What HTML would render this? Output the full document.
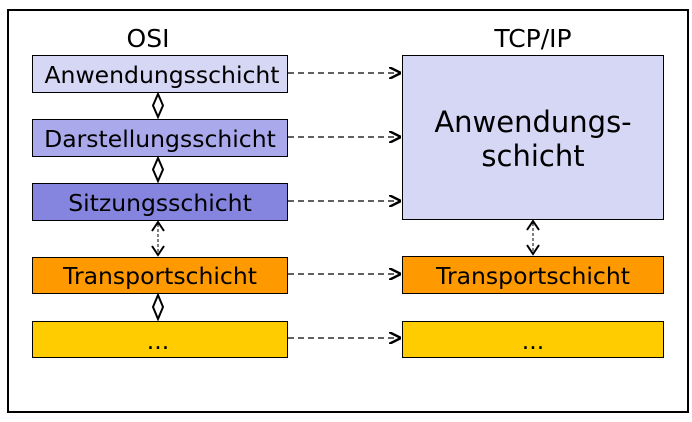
<!DOCTYPE html>
<html><head><meta charset="utf-8"><style>
html,body{margin:0;padding:0;background:#fff;}
svg{display:block;font-family:"DejaVu Sans","Liberation Sans",sans-serif;}
</style></head><body>
<svg width="692" height="422" viewBox="0 0 692 422" xmlns="http://www.w3.org/2000/svg">
<defs>
<marker id="ar" viewBox="0 0 10 10" refX="10" refY="5" markerWidth="12" markerHeight="12" markerUnits="userSpaceOnUse" orient="auto">
<path d="M0,0 L10,5 L0,10" fill="none" stroke="#000" stroke-width="2"/>
</marker>
</defs>
<rect x="8" y="10" width="680" height="402" fill="#fff" stroke="#000" stroke-width="2"/>
<text x="148" y="47" font-size="25" text-anchor="middle">OSI</text>
<text x="533" y="47" font-size="25" text-anchor="middle">TCP/IP</text>

<rect x="32.5" y="55.5" width="255" height="37" fill="#d6d6f5" stroke="#000"/>
<text x="162" y="83" font-size="23.5" text-anchor="middle">Anwendungsschicht</text>
<rect x="32.5" y="119.5" width="255" height="37" fill="#a9a9ec" stroke="#000"/>
<text x="160" y="147" font-size="23.5" text-anchor="middle">Darstellungsschicht</text>
<rect x="32.5" y="183.5" width="255" height="37" fill="#8585e0" stroke="#000"/>
<text x="160" y="211" font-size="23.5" text-anchor="middle">Sitzungsschicht</text>
<rect x="32.5" y="257.5" width="255" height="36" fill="#ff9900" stroke="#000"/>
<text x="160" y="284" font-size="23.5" text-anchor="middle">Transportschicht</text>
<rect x="32.5" y="321.5" width="255" height="36" fill="#ffcc00" stroke="#000"/>
<text x="158" y="349" font-size="23.5" text-anchor="middle">...</text>

<rect x="402.5" y="55.5" width="261" height="164" fill="#d6d6f5" stroke="#000"/>
<text x="533" y="132" font-size="29" text-anchor="middle">Anwendungs-</text>
<text x="533" y="166" font-size="29" text-anchor="middle">schicht</text>
<rect x="402.5" y="256.5" width="261" height="37" fill="#ff9900" stroke="#000"/>
<text x="533" y="284" font-size="23.5" text-anchor="middle">Transportschicht</text>
<rect x="402.5" y="321.5" width="261" height="36" fill="#ffcc00" stroke="#000"/>
<text x="533" y="349" font-size="23.5" text-anchor="middle">...</text>

<g stroke="#000" stroke-width="1.3" stroke-dasharray="6,4" fill="none">
<line x1="288" y1="73" x2="401" y2="73" marker-end="url(#ar)"/>
<line x1="288" y1="137" x2="401" y2="137" marker-end="url(#ar)"/>
<line x1="288" y1="201" x2="401" y2="201" marker-end="url(#ar)"/>
<line x1="288" y1="274" x2="401" y2="274" marker-end="url(#ar)"/>
<line x1="288" y1="338" x2="401" y2="338" marker-end="url(#ar)"/>
</g>

<g fill="#fff" stroke="#000" stroke-width="2">
<path d="M158,94 L163,105.5 L158,117 L153,105.5 Z"/>
<path d="M158,158 L163,169.5 L158,181 L153,169.5 Z"/>
<path d="M158,295 L163,307 L158,319 L153,307 Z"/>
</g>
<g stroke="#000" fill="none">
<line x1="158" y1="224" x2="158" y2="253" stroke-width="1" stroke-dasharray="3,2"/>
<path d="M152,231 L158,222 L164,231 M152,246 L158,255 L164,246" stroke-width="2"/>
<line x1="533" y1="223" x2="533" y2="252" stroke-width="1" stroke-dasharray="3,2"/>
<path d="M527,230 L533,221 L539,230 M527,245 L533,254 L539,245" stroke-width="2"/>
</g>
</svg>
</body></html>
